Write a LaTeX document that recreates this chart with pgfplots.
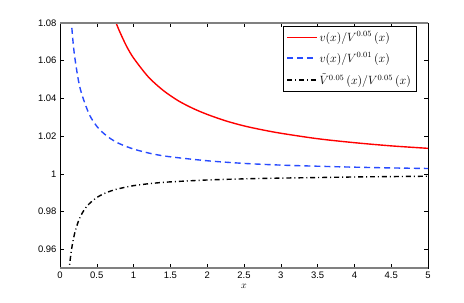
\documentclass[border=0pt]{standalone}
\usepackage{pgfplots}
\pgfplotsset{compat=1.18}
\usepackage{fontspec}
\setmainfont{Liberation Sans}
\definecolor{mblue}{RGB}{40,75,255}
\begin{document}
\begin{tikzpicture}
\begin{axis}[
  scale only axis, width=368bp, height=245bp,
  xmin=0, xmax=5, ymin=0.95, ymax=1.08,
  xtick={0,0.5,...,5},
  ytick={0.96,0.98,1,1.02,1.04,1.06,1.08},
  yticklabels={0.96,0.98,1,1.02,1.04,1.06,1.08},
  xticklabels={0,0.5,1,1.5,2,2.5,3,3.5,4,4.5,5},
  tick align=inside, tick pos=both,
  tick label style={font=\fontsize{9.5}{11}\selectfont},
  /pgf/number format/assume math mode=true,
  xlabel={$x$},
  xlabel style={yshift=1pt},
  axis line style={line width=0.6pt},
  major tick style={black, line width=0.5pt},
  legend style={at={(0.969,0.988)}, anchor=north east, draw=black, line width=0.6pt,
    font=\fontsize{11.5}{13}\selectfont, row sep=6pt, inner sep=3.5pt},
  legend cell align=left,
  legend image code/.code={\draw[#1] (0cm,0cm) -- (1.05cm,0cm);},
]
\addplot[red, line width=1.4pt, smooth] coordinates {
(0.75,1.0813)(0.8,1.0764)(0.9,1.0680)(1.0,1.0614)(1.2,1.0514)(1.4,1.0443)(1.6,1.0389)
(1.8,1.0348)(2.0,1.0315)(2.25,1.0281)(2.5,1.0254)(2.75,1.0233)(3.0,1.0215)(3.5,1.0186)
(4.0,1.0165)(4.5,1.0148)(5.0,1.0135)};
\addlegendentry{$v(x)/V^{0.05}\,(x)$}
\addplot[mblue, line width=1.4pt, smooth, dash pattern=on 6pt off 4pt] coordinates {
(0.15,1.0827)(0.175,1.0709)(0.2,1.0620)(0.25,1.0496)(0.3,1.0417)(0.4,1.0313)(0.5,1.0252)
(0.6,1.0212)(0.7,1.0183)(0.8,1.0161)(1.0,1.0131)(1.25,1.0106)(1.5,1.0090)(2.0,1.0069)
(2.5,1.0055)(3.0,1.0046)(3.5,1.0040)(4.0,1.0035)(4.5,1.0031)(5.0,1.0028)};
\addlegendentry{$v(x)/V^{0.01}\,(x)$}
\addplot[black, line width=1.4pt, smooth, dash pattern=on 5pt off 3pt on 1pt off 3pt] coordinates {
(0.12,0.9475)(0.13,0.9515)(0.15,0.958)(0.175,0.964)(0.2,0.9685)(0.25,0.9748)(0.3,0.9790)
(0.35,0.9820)(0.4,0.9842)(0.5,0.9874)(0.6,0.9895)(0.7,0.9910)(0.8,0.9921)(1.0,0.9937)
(1.25,0.9949)(1.5,0.9957)(2.0,0.9967)(2.5,0.9973)(3.0,0.9977)(3.5,0.9980)(4.0,0.9983)
(4.5,0.9985)(5.0,0.9987)};
\addlegendentry{$\tilde{V}^{0.05}\,(x)/V^{0.05}\,(x)$}
\draw[gray, line width=1.2pt] (rel axis cs:0,1) -- (rel axis cs:1,1);
\draw[gray, line width=1.2pt] (rel axis cs:0,0) -- (rel axis cs:1,0);
\coordinate (A) at (rel axis cs:0,0);
\coordinate (B) at (rel axis cs:1,1);
\end{axis}
\pgfresetboundingbox
\path ([shift={(-60bp,-35bp)}]A) rectangle ([shift={(36bp,23bp)}]B);
\end{tikzpicture}
\end{document}
